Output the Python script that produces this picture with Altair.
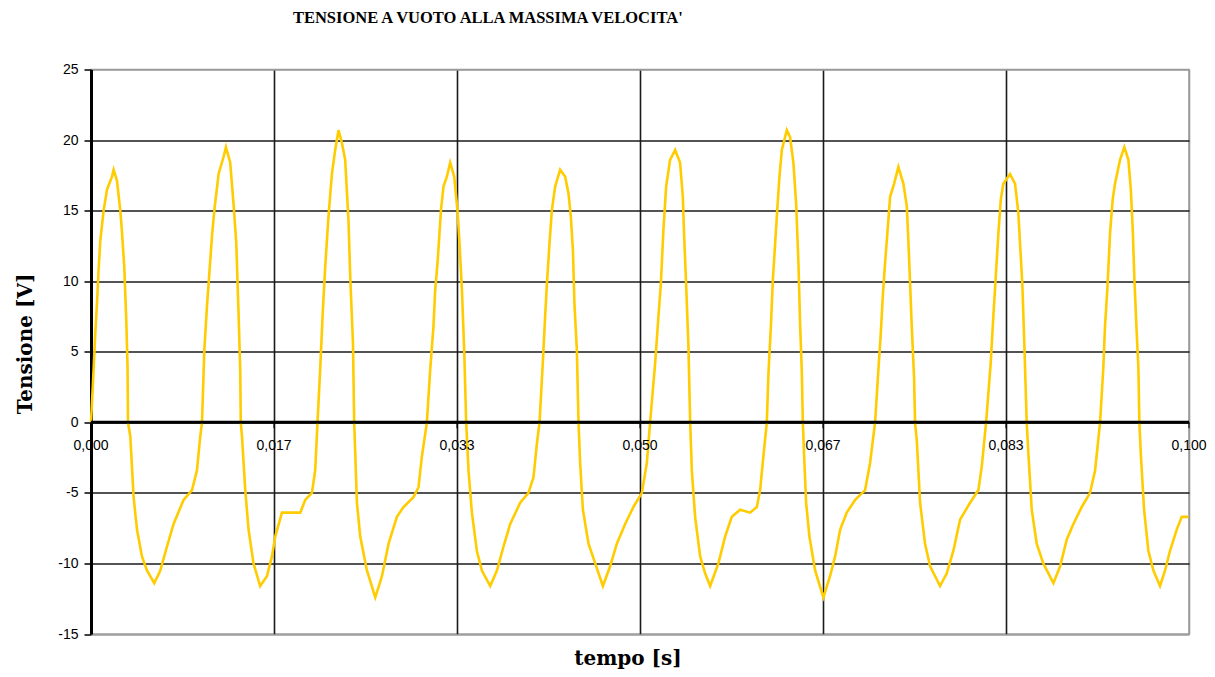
import altair as alt
import pandas as pd

title_text = "TENSIONE A VUOTO ALLA MASSIMA VELOCITA'"
x_title = "tempo [s]"
y_title = "Tensione [V]"

x_ticks = [0.0, 1 / 60, 2 / 60, 3 / 60, 4 / 60, 5 / 60, 0.1]
x_labels = ["0,000", "0,017", "0,033", "0,050", "0,067", "0,083", "0,100"]
y_ticks = [-15, -10, -5, 0, 5, 10, 15, 20, 25]

# time in milliseconds, one line per cycle
t_ms = [
    0.00, 0.18, 0.39, 0.55, 0.69, 0.85, 1.15, 1.46, 1.91, 2.06, 2.37, 2.67, 2.82, 3.03, 3.21, 3.33, 3.37, 3.58, 3.88, 4.19, 4.64, 5.10, 5.76, 6.31, 6.92, 7.52, 8.43, 9.20, 9.65, 9.95,
    10.11, 10.32, 10.56, 10.80, 11.02, 11.23, 11.62, 12.07, 12.29, 12.68, 12.98, 13.23, 13.44, 13.59, 13.64, 13.75, 14.05, 14.35, 14.80, 15.41, 16.02, 16.48, 16.78, 17.39, 18.15, 19.06, 19.51, 20.12, 20.42,
    20.63, 20.88, 21.12, 21.33, 21.63, 21.94, 22.24, 22.54, 22.85, 23.15, 23.45, 23.61, 23.86, 23.97, 24.22, 24.52, 25.13, 25.89, 26.50, 27.10, 27.86, 28.46, 29.37, 29.83, 30.14,
    30.59, 30.89, 31.19, 31.35, 31.56, 31.74, 31.87, 32.10, 32.41, 32.71, 33.08, 33.38, 33.56, 33.78, 33.99, 34.17, 34.38, 34.69, 35.14, 35.60, 36.36, 36.97, 37.57, 38.18, 39.09, 39.84, 40.30, 40.61,
    40.85, 41.16, 41.36, 41.52, 41.76, 41.97, 42.27, 42.73, 43.19, 43.49, 43.70, 43.89, 44.03, 44.25, 44.40, 44.55, 44.80, 45.31, 45.92, 46.62, 47.28, 47.89, 48.65, 49.40, 50.17, 50.62,
    50.92, 51.38, 51.68, 51.90, 52.13, 52.38, 52.74, 53.20, 53.65, 53.90, 54.02, 54.20, 54.41, 54.57, 54.72, 55.02, 55.48, 55.93, 56.39, 57.14, 57.75, 58.36, 59.12, 60.03, 60.64, 60.94, 61.24,
    61.55, 61.70, 61.92, 62.10, 62.31, 62.52, 62.70, 62.92, 63.37, 63.67, 63.97, 64.22, 64.43, 64.58, 64.74, 64.83, 64.95, 65.13, 65.43, 65.95, 66.70, 67.31, 67.77, 68.23, 68.83, 69.59, 70.50, 70.95,
    71.41, 71.71, 71.93, 72.11, 72.32, 72.53, 72.78, 73.14, 73.53, 73.99, 74.30, 74.44, 74.60, 74.75, 74.96, 75.05, 75.21, 75.51, 75.96, 76.42, 77.33, 77.94, 78.54, 79.15, 80.06, 80.82, 81.13,
    81.52, 81.94, 82.18, 82.40, 82.64, 82.86, 83.09, 83.70, 84.16, 84.46, 84.61, 84.82, 85.00, 85.22, 85.37, 85.68, 86.13, 86.73, 87.65, 88.26, 88.87, 89.47, 90.23, 90.99, 91.45,
    91.90, 92.20, 92.35, 92.56, 92.81, 93.05, 93.26, 93.72, 94.11, 94.48, 94.70, 94.88, 95.03, 95.24, 95.39, 95.48, 95.61, 95.91, 96.30, 96.76, 97.36, 97.82, 98.27, 98.88, 99.34, 99.94,
]

# voltage in volts, one line per cycle
volts = [
    0, 2.8, 6.3, 8.5, 10.8, 12.9, 15.0, 16.5, 17.4, 17.9, 17.1, 15.0, 13.5, 11.0, 7.3, 3.9, 0, -1.0, -5.3, -7.6, -9.5, -10.5, -11.4, -10.5, -8.8, -7.2, -5.5, -4.8, -3.4, -1.0,
    0, 5.1, 8.2, 10.8, 13.2, 15.0, 17.6, 18.8, 19.5, 18.4, 15.5, 12.7, 7.7, 3.7, 0, -1.0, -4.8, -7.6, -10.0, -11.6, -10.9, -9.5, -8.1, -6.4, -6.4, -6.4, -5.5, -5.0, -3.4,
    0, 3.9, 8.0, 11.0, 14.6, 17.6, 19.3, 20.7, 19.8, 18.6, 14.3, 10.3, 5.6, 0, -5.7, -8.1, -10.5, -12.4, -10.9, -8.6, -6.7, -6.0, -5.3, -4.6, -2.4,
    0, 3.7, 6.8, 9.4, 11.3, 13.4, 15.0, 16.7, 17.4, 18.4, 17.4, 15.0, 12.7, 9.4, 5.1, 0, -3.4, -6.4, -9.1, -10.5, -11.6, -10.5, -8.8, -7.2, -5.7, -5.0, -3.9, -1.5,
    0, 4.4, 7.5, 9.8, 12.7, 15.0, 16.7, 17.9, 17.4, 16.2, 14.6, 12.2, 8.4, 5.1, 0, -2.9, -6.2, -8.6, -10.0, -11.6, -10.2, -8.6, -7.2, -6.0, -5.0, -2.9,
    0, 4.2, 7.5, 9.8, 13.6, 16.7, 18.6, 19.3, 18.4, 16.0, 13.2, 9.8, 5.4, 0, -3.4, -6.7, -9.5, -10.7, -11.6, -10.0, -8.1, -6.7, -6.2, -6.4, -6.0, -4.8, -2.4,
    0, 3.5, 6.8, 10.1, 12.7, 15.3, 17.4, 19.3, 20.7, 20.2, 18.4, 15.5, 11.3, 7.0, 3.5, 0, -2.4, -5.7, -8.1, -10.5, -12.4, -10.9, -9.5, -7.6, -6.4, -5.5, -4.8, -2.9,
    0, 3.7, 6.3, 8.9, 11.3, 13.4, 16.0, 16.9, 18.1, 16.9, 15.3, 12.9, 9.8, 6.8, 3.2, 0, -1.3, -5.7, -8.6, -10.2, -11.6, -10.7, -9.1, -6.9, -5.7, -4.8, -3.1,
    0, 4.2, 7.5, 10.3, 13.4, 15.8, 16.9, 17.6, 16.9, 14.8, 12.7, 9.8, 5.6, 0, -2.2, -6.2, -8.6, -10.0, -11.4, -10.2, -8.3, -7.2, -6.0, -5.0, -3.4,
    0, 3.9, 6.8, 9.4, 13.4, 15.8, 16.9, 18.6, 19.5, 18.6, 16.5, 13.6, 10.1, 6.3, 3.9, 0, -2.2, -6.2, -9.1, -10.5, -11.6, -10.5, -9.1, -7.6, -6.7, -6.7,
]

assert len(t_ms) == len(volts)

df = pd.DataFrame({"t": [x / 1000 for x in t_ms], "v": volts})
tick_df = pd.DataFrame({"t": x_ticks, "lab": x_labels, "v": [0] * len(x_ticks)})
zero_df = pd.DataFrame({"v": [0]})
title_df = pd.DataFrame({"label": [title_text]})
xtitle_df = pd.DataFrame({"label": [x_title]})

W, H = 1098, 564.5
GRID = "#1a1a1a"
BORDER = "#9a9a9a"

x_scale = alt.Scale(domain=[0, 0.1], nice=False, zero=False)
y_scale = alt.Scale(domain=[-15, 25], nice=False, zero=False)

line = alt.Chart(df).mark_line(color="#FFCC00", strokeWidth=2.6).encode(
    x=alt.X(
        "t:Q",
        scale=x_scale,
        axis=alt.Axis(
            values=x_ticks, grid=True, labels=False, domain=False, ticks=False, title=None,
            gridColor={"condition": {"test": "datum.value > 0.099", "value": BORDER}, "value": GRID},
            gridWidth=1.6,
        ),
    ),
    y=alt.Y(
        "v:Q",
        scale=y_scale,
        axis=alt.Axis(
            values=y_ticks, grid=True,
            gridColor={"condition": {"test": "datum.value == 25 || datum.value == -15", "value": BORDER}, "value": GRID},
            gridWidth=1.6,
            domainColor="black", domainWidth=3,
            tickColor="black", tickWidth=1.5, tickSize=7,
            labelPadding=6, labelFont="Liberation Sans", labelFontSize=14, labelColor="black",
            labelExpr="datum.value < 0 ? '-' + abs(datum.value) : '' + datum.value",
            title=y_title, titleFont="DejaVu Serif", titleFontSize=20, titleFontWeight="bold",
            titleColor="black", titleX=-66, titleY=274, titleAngle=270,
            titleBaseline="middle", titleAlign="center",
        ),
    ),
)

zero_line = alt.Chart(zero_df).mark_rule(color="black", strokeWidth=3).encode(y="v:Q")

ticks = alt.Chart(tick_df).mark_tick(
    orient="vertical", size=6, thickness=1.5, color="black", yOffset=3
).encode(x="t:Q", y="v:Q")

tick_labels = alt.Chart(tick_df).mark_text(
    font="Liberation Sans", fontSize=14, color="black", baseline="middle", align="center", dy=24
).encode(x="t:Q", y="v:Q", text="lab:N")

title = alt.Chart(title_df).mark_text(
    font="Liberation Serif", fontSize=16.5, fontWeight="bold", color="black",
    align="center", baseline="middle",
).encode(x=alt.value(396.8), y=alt.value(-52), text="label:N")

xtitle = alt.Chart(xtitle_df).mark_text(
    font="DejaVu Serif", fontSize=20, fontWeight="bold", color="black",
    align="center", baseline="middle",
).encode(x=alt.value(537), y=alt.value(589), text="label:N")

chart = (
    alt.layer(line, zero_line, ticks, tick_labels, title, xtitle)
    .properties(
        width=W, height=H, autosize="none",
        padding={"left": 83, "top": 61.5, "right": 18, "bottom": 38},
        background="white",
    )
    .configure_view(stroke=BORDER, strokeWidth=1.5)
)

chart.save("out.html", embed_options={"renderer": "svg", "actions": False})
